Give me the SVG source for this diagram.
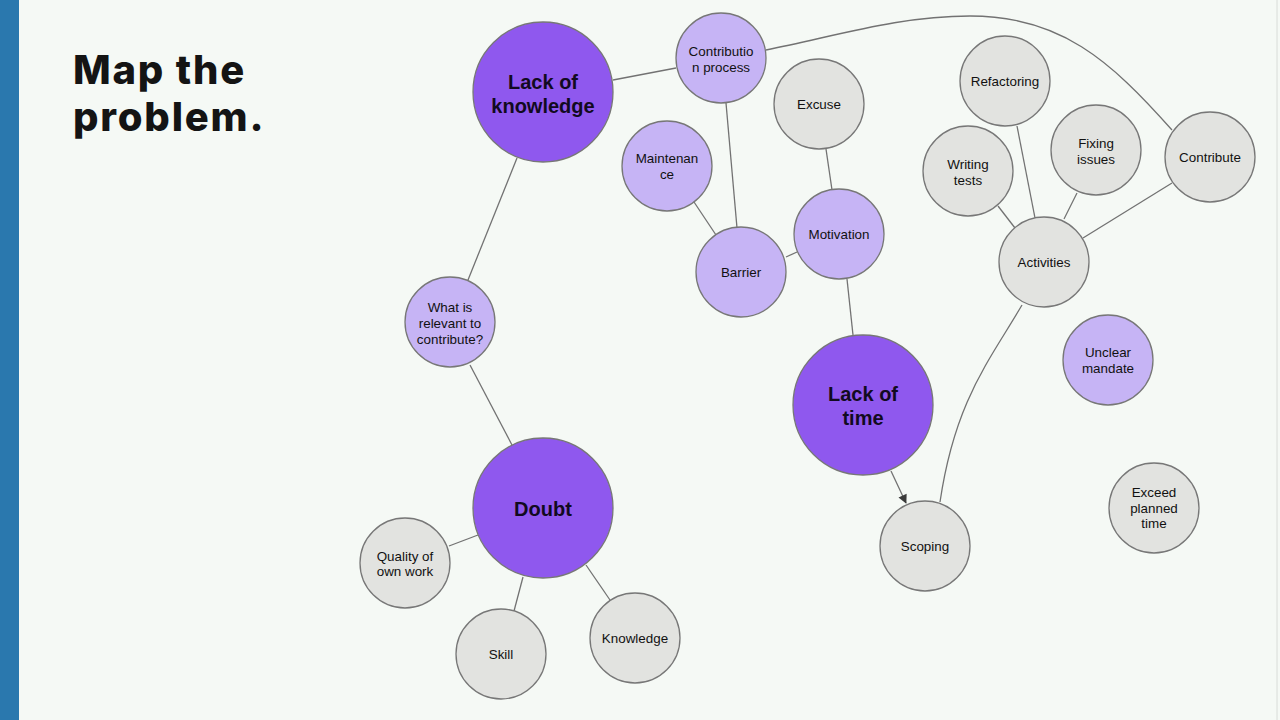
<svg xmlns="http://www.w3.org/2000/svg" width="1280" height="720" viewBox="0 0 1280 720">
<defs>
<style>
.n circle{stroke:#777;stroke-width:1.3}
.big circle{fill:#8f58ee}
.mid circle{fill:#c6b4f5}
.gry circle{fill:#e2e3e0}
.n text{font-family:"Liberation Sans",Arial,sans-serif;font-size:13.4px;fill:#111;text-anchor:middle}
.big text{font-size:20px;font-weight:bold;fill:#120a20}
.e{fill:none;stroke:#727272;stroke-width:1.3}
.title{font-family:Inter,"Liberation Sans",sans-serif;font-weight:800;font-size:40px;letter-spacing:1.8px;fill:#141414}
</style>
<marker id="arr" viewBox="0 0 10 10" refX="9" refY="5" markerWidth="10" markerHeight="9" orient="auto" markerUnits="userSpaceOnUse"><path d="M0,0 L10,5 L0,10 z" fill="#3a3a3a"/></marker>
</defs>
<rect width="1280" height="720" fill="#f5f9f5"/>
<rect x="0" y="0" width="19" height="720" fill="#2a78ae"/>
<line x1="1277" y1="0" x2="1277" y2="720" stroke="#d8dcd8" stroke-width="1"/>
<text class="title" x="73" y="84">Map the</text>
<text class="title" x="73" y="131">problem.</text>
<g id="connectors">
<line class="e" x1="613" y1="80" x2="676" y2="68"/>
<line class="e" x1="517" y1="158" x2="468" y2="280"/>
<line class="e" x1="470" y1="365" x2="512" y2="445"/>
<line class="e" x1="478" y1="535" x2="449" y2="546"/>
<line class="e" x1="523" y1="577" x2="514" y2="611"/>
<line class="e" x1="586" y1="565" x2="610" y2="600"/>
<line class="e" x1="726" y1="103" x2="737" y2="228"/>
<line class="e" x1="694" y1="202" x2="716" y2="235"/>
<line class="e" x1="786" y1="257" x2="797" y2="252"/>
<line class="e" x1="826" y1="149" x2="832" y2="190"/>
<line class="e" x1="847" y1="279" x2="853" y2="335"/>
<line class="e" x1="891" y1="471" x2="906" y2="503" marker-end="url(#arr)"/>
<path class="e" d="M1022,305 C990,360 955,400 940,502"/>
<line class="e" x1="1017" y1="126" x2="1035" y2="218"/>
<line class="e" x1="998" y1="206" x2="1015" y2="228"/>
<line class="e" x1="1077" y1="193" x2="1064" y2="219"/>
<line class="e" x1="1172" y1="183" x2="1083" y2="238"/>
<path class="e" d="M766,50 C840,35 900,16 970,16 C1060,16 1110,60 1172,130"/>
</g>
<g id="lack-of-knowledge" class="n big"><circle cx="543" cy="92" r="70"/><text x="543" y="89">Lack of</text><text x="543" y="113">knowledge</text></g>
<g id="contribution-process" class="n mid"><circle cx="721" cy="58" r="45"/><text x="721" y="56">Contributio</text><text x="721" y="72">n process</text></g>
<g id="excuse" class="n gry"><circle cx="819" cy="104" r="45"/><text x="819" y="109">Excuse</text></g>
<g id="maintenance" class="n mid"><circle cx="667" cy="166" r="45"/><text x="667" y="163">Maintenan</text><text x="667" y="179">ce</text></g>
<g id="barrier" class="n mid"><circle cx="741" cy="272" r="45"/><text x="741" y="277">Barrier</text></g>
<g id="motivation" class="n mid"><circle cx="839" cy="234" r="45"/><text x="839" y="239">Motivation</text></g>
<g id="what-is-relevant" class="n mid"><circle cx="450" cy="322" r="45"/><text x="450" y="312">What is</text><text x="450" y="328">relevant to</text><text x="450" y="344">contribute?</text></g>
<g id="doubt" class="n big"><circle cx="543" cy="508" r="70"/><text x="543" y="516">Doubt</text></g>
<g id="quality" class="n gry"><circle cx="405" cy="563" r="45"/><text x="405" y="561">Quality of</text><text x="405" y="576">own work</text></g>
<g id="skill" class="n gry"><circle cx="501" cy="654" r="45"/><text x="501" y="659">Skill</text></g>
<g id="knowledge" class="n gry"><circle cx="635" cy="638" r="45"/><text x="635" y="643">Knowledge</text></g>
<g id="lack-of-time" class="n big"><circle cx="863" cy="405" r="70"/><text x="863" y="401">Lack of</text><text x="863" y="425">time</text></g>
<g id="scoping" class="n gry"><circle cx="925" cy="546" r="45"/><text x="925" y="551">Scoping</text></g>
<g id="refactoring" class="n gry"><circle cx="1005" cy="81" r="45"/><text x="1005" y="86">Refactoring</text></g>
<g id="writing-tests" class="n gry"><circle cx="968" cy="171" r="45"/><text x="968" y="169">Writing</text><text x="968" y="185">tests</text></g>
<g id="fixing-issues" class="n gry"><circle cx="1096" cy="150" r="45"/><text x="1096" y="148">Fixing</text><text x="1096" y="164">issues</text></g>
<g id="contribute" class="n gry"><circle cx="1210" cy="157" r="45"/><text x="1210" y="162">Contribute</text></g>
<g id="activities" class="n gry"><circle cx="1044" cy="262" r="45"/><text x="1044" y="267">Activities</text></g>
<g id="unclear-mandate" class="n mid"><circle cx="1108" cy="360" r="45"/><text x="1108" y="357">Unclear</text><text x="1108" y="373">mandate</text></g>
<g id="exceed-planned-time" class="n gry"><circle cx="1154" cy="508" r="45"/><text x="1154" y="497">Exceed</text><text x="1154" y="513">planned</text><text x="1154" y="528">time</text></g>
</svg>
